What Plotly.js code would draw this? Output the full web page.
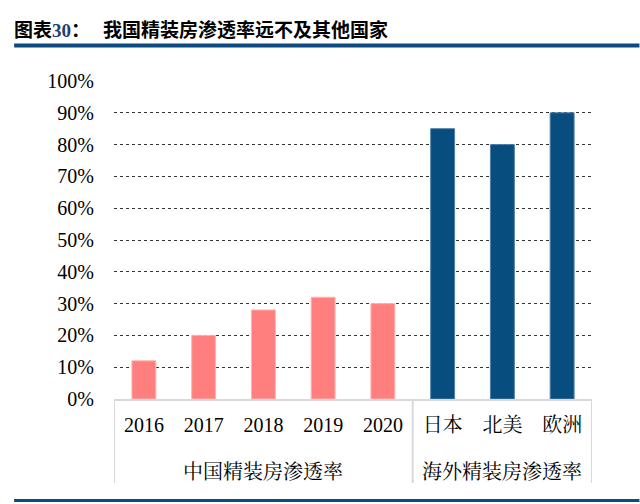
<!DOCTYPE html>
<html>
<head>
<meta charset="utf-8">
<script src="https://cdn.plot.ly/plotly-3.0.1.min.js"></script>
<style>
html,body{margin:0;padding:0;background:#fff;}
#chart{width:640px;height:504px;}
</style>
</head>
<body>
<div id="chart"></div>
<script>
const categories = ['2016','2017','2018','2019','2020','日本','北美','欧洲'];
const values = [0.12, 0.20, 0.28, 0.32, 0.30, 0.85, 0.80, 0.90];
const groupNames = ['中国精装房渗透率','海外精装房渗透率'];
const groupSizes = [5, 3];
const groupColors = ['#FF7F7F', '#074D7D'];
const groupLineColors = ['#FFB3B3', '#4F7FA8'];

// expand group info per bar
const barGroup = [];
groupSizes.forEach((n, gi) => { for (let i = 0; i < n; i++) barGroup.push(gi); });
const colors = barGroup.map(g => groupColors[g]);
const lineColors = barGroup.map(g => groupLineColors[g]);

const FONT = 'Liberation Serif, Times New Roman, Noto Serif CJK SC, Noto Sans CJK SC, serif';

const trace = {
  type: 'bar',
  x: categories,
  y: values,
  marker: {color: colors, line: {color: lineColors, width: 1}},
  hoverinfo: 'skip'
};

// plot area in pixels: x 114..592.5, y 81..399
const L = 114, R = 592.5, T = 81, B = 399;
const pw = R - L, ph = B - T;
const px = v => (v - L) / pw;
const py = v => (B - v) / ph;

const shapes = [
  {type: 'line', xref: 'paper', yref: 'paper', x0: px(14), x1: px(640), y0: py(45.5), y1: py(45.5),
   line: {color: '#0C4A80', width: 4}},
  {type: 'line', xref: 'paper', yref: 'paper', x0: px(14), x1: px(640), y0: py(500.5), y1: py(500.5),
   line: {color: '#0C4A80', width: 3}}
];
const annotations = [];
let start = 0;
const bounds = [-0.5];
groupSizes.forEach((n, gi) => {
  annotations.push({
    xref: 'x', yref: 'paper', x: start + (n - 1) / 2, y: py(472),
    text: groupNames[gi], showarrow: false, xanchor: 'center', yanchor: 'middle',
    font: {family: FONT, size: 20, color: '#000'}
  });
  start += n;
  bounds.push(start - 0.5);
});
bounds.forEach(b => {
  shapes.push({type: 'line', xref: 'x', yref: 'paper', x0: b, x1: b, y0: 0, y1: py(483),
    line: {color: '#D9D9D9', width: 2}});
});

const layout = {
  width: 640, height: 504,
  margin: {l: L, r: 640 - R, t: T, b: 504 - B, pad: 0},
  paper_bgcolor: '#fff', plot_bgcolor: '#fff',
  showlegend: false,
  bargap: 0.6,
  font: {family: FONT, size: 20, color: '#000'},
  title: {
    text: '图表<span style="font-family:Liberation Serif;color:#1F3E73">30</span>：\u00a0\u00a0\u00a0我国精装房渗透率远不及其他国家',
    font: {family: 'Noto Sans CJK SC, Liberation Serif, sans-serif', size: 19, color: '#000', weight: 'bold'},
    xref: 'container', yref: 'container',
    x: 14 / 640, xanchor: 'left',
    y: 1 - 30 / 504, yanchor: 'middle'
  },
  xaxis: {
    type: 'category',
    range: [-0.5, categories.length - 0.5],
    showgrid: false,
    showline: true, linecolor: '#D9D9D9', linewidth: 2,
    ticks: '',
    ticklabelstandoff: 7,
    tickfont: {family: FONT, size: 20, color: '#000'},
    fixedrange: true
  },
  yaxis: {
    range: [0, 1],
    dtick: 0.1,
    tickformat: '.0%',
    showgrid: true, gridcolor: '#333', griddash: 'dot', gridwidth: 1,
    zeroline: false,
    showline: false,
    ticks: '',
    ticklabelstandoff: 19,
    tickfont: {family: FONT, size: 20, color: '#000'},
    fixedrange: true
  },
  shapes: shapes,
  annotations: annotations
};

Plotly.newPlot('chart', [trace], layout, {displayModeBar: false, staticPlot: true});
</script>
</body>
</html>
